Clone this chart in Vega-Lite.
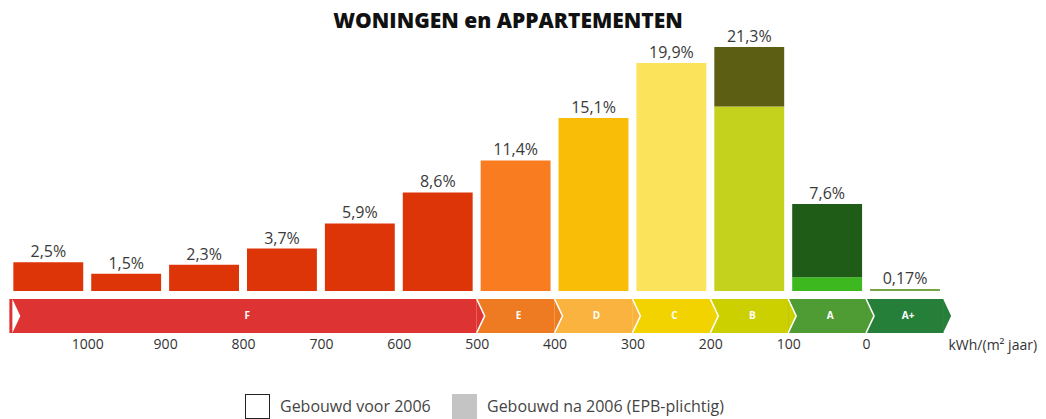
{
  "$schema": "https://vega.github.io/schema/vega-lite/v6.json",
  "width": 1046,
  "height": 419,
  "autosize": "none",
  "padding": 0,
  "background": "white",
  "config": {"view": {"stroke": null}, "font": "Open Sans"},
  "title": {"text": "WONINGEN en APPARTEMENTEN", "anchor": "middle", "fontSize": 21, "fontWeight": 800, "font": "Open Sans", "color": "#111111", "offset": -32, "dx": -15},
  "resolve": {"scale": {"color": "independent"}},
  "datasets": {
    "band": [
      {"klasse": "F", "hi": 1100, "lo": 500},
      {"klasse": "E", "hi": 500, "lo": 400},
      {"klasse": "D", "hi": 400, "lo": 300},
      {"klasse": "C", "hi": 300, "lo": 200},
      {"klasse": "B", "hi": 200, "lo": 100},
      {"klasse": "A", "hi": 100, "lo": 0},
      {"klasse": "A+", "hi": 0, "lo": -100}
    ],
    "staven": [
      {"klasse": "F", "hi": 1100, "lo": 1000, "voor": 2.5, "totaal": 2.5, "label": "2,5%"},
      {"klasse": "F", "hi": 1000, "lo": 900, "voor": 1.5, "totaal": 1.5, "label": "1,5%"},
      {"klasse": "F", "hi": 900, "lo": 800, "voor": 2.3, "totaal": 2.3, "label": "2,3%"},
      {"klasse": "F", "hi": 800, "lo": 700, "voor": 3.7, "totaal": 3.7, "label": "3,7%"},
      {"klasse": "F", "hi": 700, "lo": 600, "voor": 5.9, "totaal": 5.9, "label": "5,9%"},
      {"klasse": "F", "hi": 600, "lo": 500, "voor": 8.6, "totaal": 8.6, "label": "8,6%"},
      {"klasse": "E", "hi": 500, "lo": 400, "voor": 11.4, "totaal": 11.4, "label": "11,4%"},
      {"klasse": "D", "hi": 400, "lo": 300, "voor": 15.1, "totaal": 15.1, "label": "15,1%"},
      {"klasse": "C", "hi": 300, "lo": 200, "voor": 19.9, "totaal": 19.9, "label": "19,9%"},
      {"klasse": "B", "hi": 200, "lo": 100, "voor": 16.1, "totaal": 21.3, "label": "21,3%"},
      {"klasse": "A", "hi": 100, "lo": 0, "voor": 1.2, "totaal": 7.6, "label": "7,6%"},
      {"klasse": "A+", "hi": 0, "lo": -100, "voor": 0.17, "totaal": 0.17, "label": "0,17%"}
    ],
    "periodes": [
      {"periode": "Gebouwd voor 2006"},
      {"periode": "Gebouwd na 2006 (EPB-plichtig)"}
    ]
  },
  "layer": [
    {
      "data": {"name": "band"},
      "mark": {"type": "rect"},
      "encoding": {
        "x": {"field": "hi", "type": "quantitative", "scale": {"domain": [1112, -231], "nice": false, "zero": false},
          "axis": {"orient": "bottom", "offset": -86, "values": [1000, 900, 800, 700, 600, 500, 400, 300, 200, 100, 0], "format": "d", "domain": false, "ticks": false, "grid": false, "labelFontSize": 14, "labelColor": "#333333", "labelFont": "Open Sans", "labelPadding": 4, "title": "kWh/(m² jaar)", "titleFontSize": 14, "titleFontWeight": "normal", "titleColor": "#333333", "titleFont": "Open Sans", "titleAnchor": "start", "titleAngle": 0, "titleX": 948, "titleY": 12, "titleBaseline": "middle", "titleAlign": "left"}},
        "x2": {"field": "lo"},
        "y": {"datum": -0.7, "type": "quantitative", "scale": {"domain": [-11.18, 25.41], "nice": false, "zero": false}, "axis": null},
        "y2": {"datum": -3.67},
        "fill": {"field": "klasse", "type": "nominal", "scale": {"domain": ["F", "E", "D", "C", "B", "A", "A+"], "range": ["#DD3333", "#EE7A22", "#F9B33E", "#F2D300", "#CCD000", "#4E9C33", "#267F39"]}, "legend": null}
      }
    },
    {
      "data": {"name": "band"},
      "mark": {"type": "point", "shape": "M 0 -1 L 0.47 0 L 0 1", "size": 1156, "filled": true, "opacity": 1, "stroke": "white", "strokeWidth": 1.5},
      "encoding": {
        "x": {"field": "lo", "type": "quantitative"},
        "y": {"datum": -2.18, "type": "quantitative"},
        "fill": {"field": "klasse", "type": "nominal", "legend": null}
      }
    },
    {
      "data": {"name": "band"},
      "transform": [{"filter": "datum.klasse === 'F'"}],
      "mark": {"type": "point", "shape": "M 0 -1 L 0.47 0 L 0 1 Z", "size": 1156, "filled": true, "opacity": 1, "fill": "white", "strokeWidth": 0, "xOffset": 3},
      "encoding": {
        "x": {"field": "hi", "type": "quantitative"},
        "y": {"datum": -2.18, "type": "quantitative"}
      }
    },
    {
      "data": {"name": "band"},
      "transform": [{"filter": "datum.klasse !== 'F'"}],
      "mark": {"type": "text", "color": "white", "fontSize": 10, "fontWeight": "bold", "align": "center", "baseline": "middle", "dx": 42},
      "encoding": {
        "x": {"field": "hi", "type": "quantitative"},
        "y": {"datum": -2.18, "type": "quantitative"},
        "text": {"field": "klasse"}
      }
    },
    {
      "data": {"name": "band"},
      "transform": [{"filter": "datum.klasse === 'F'"}],
      "mark": {"type": "text", "color": "white", "fontSize": 10, "fontWeight": "bold", "align": "center", "baseline": "middle", "dx": 238},
      "encoding": {
        "x": {"field": "hi", "type": "quantitative"},
        "y": {"datum": -2.18, "type": "quantitative"},
        "text": {"field": "klasse"}
      }
    },
    {
      "data": {"name": "staven"},
      "mark": {"type": "rect", "xOffset": 4, "x2Offset": -4},
      "encoding": {
        "x": {"field": "hi", "type": "quantitative"},
        "x2": {"field": "lo"},
        "y": {"field": "voor", "type": "quantitative"},
        "y2": {"datum": 0},
        "color": {"field": "klasse", "type": "nominal", "scale": {"domain": ["F", "E", "D", "C", "B", "A", "A+"], "range": ["#DE3508", "#F97D20", "#F9BD07", "#FBE45B", "#C5D21D", "#3DB81F", "#76A646"]}, "legend": null}
      }
    },
    {
      "data": {"name": "staven"},
      "transform": [{"filter": "datum.totaal > datum.voor"}],
      "mark": {"type": "rect", "xOffset": 4, "x2Offset": -4},
      "encoding": {
        "x": {"field": "hi", "type": "quantitative"},
        "x2": {"field": "lo"},
        "y": {"field": "totaal", "type": "quantitative"},
        "y2": {"field": "voor"},
        "fill": {"condition": {"test": "datum.klasse === 'B'", "value": "#5C5E13"}, "value": "#1F5C17"}
      }
    },
    {
      "data": {"name": "staven"},
      "mark": {"type": "text", "fontSize": 16, "color": "#3A3A3A", "align": "center", "baseline": "alphabetic", "dx": 39, "dy": -5, "font": "Open Sans"},
      "encoding": {
        "x": {"field": "hi", "type": "quantitative"},
        "y": {"field": "totaal", "type": "quantitative"},
        "text": {"field": "label"}
      }
    },
    {
      "data": {"name": "periodes"},
      "mark": {"type": "point", "shape": "square", "filled": true, "opacity": 0, "strokeWidth": 2},
      "encoding": {
        "color": {"field": "periode", "type": "nominal",
          "scale": {"domain": ["Gebouwd voor 2006", "Gebouwd na 2006 (EPB-plichtig)"], "range": ["#ffffff", "#c4c4c4"]},
          "legend": {"orient": "none", "legendX": 245, "legendY": 394, "direction": "horizontal", "title": null, "symbolType": "square", "symbolSize": 529, "symbolStrokeWidth": 2, "symbolStrokeColor": "transparent", "labelFontSize": 16, "labelColor": "#444444", "labelFont": "Open Sans", "labelOffset": 10, "labelLimit": 400, "columnPadding": 18}},
        "stroke": {"field": "periode", "type": "nominal",
          "scale": {"domain": ["Gebouwd voor 2006", "Gebouwd na 2006 (EPB-plichtig)"], "range": ["#222222", "#c4c4c4"]},
          "legend": {"orient": "none", "legendX": 245, "legendY": 394, "direction": "horizontal", "title": null, "symbolType": "square", "symbolSize": 529, "symbolStrokeWidth": 2, "symbolFillColor": "transparent", "labelFontSize": 16, "labelColor": "transparent", "labelOpacity": 0, "labelFont": "Open Sans", "labelOffset": 10, "labelLimit": 400, "columnPadding": 18}}
      }
    }
  ]
}
